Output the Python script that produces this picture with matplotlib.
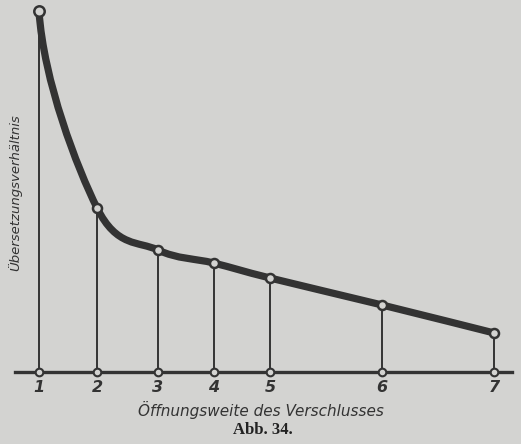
import numpy as np
import matplotlib
matplotlib.use('Agg')
import matplotlib.pyplot as plt
from matplotlib.path import Path
from matplotlib.patches import PathPatch

# opening width of the shutter (tick labels) and where they sit on the axis
opening_labels = ['1', '2', '3', '4', '5', '6', '7']
opening_pos = [1.0, 2.02, 3.09, 4.07, 5.06, 7.03, 9.0]
# transmission ratio (arbitrary units)
ratio = [36.1, 16.4, 12.2, 10.9, 9.4, 6.7, 3.9]

paper = '#d3d3d1'
ink = '#333333'

fig = plt.figure(figsize=(5.21, 4.44), dpi=100, facecolor=paper)
ax = fig.add_axes([0, 72 / 444, 1, 372 / 444])
ax.set_facecolor(paper)
ax.set_xlim(1 - 39 / 56.9, 1 + 482 / 56.9)
ax.set_ylim(0, 37.2)

x = np.array(opening_pos)
y = np.array(ratio)

# smooth curve through the points (Catmull-Rom as cubic bezier pieces)
px = np.concatenate([[x[0]], x, [x[-1]]])
py = np.concatenate([[y[0]], y, [y[-1]]])
verts = [(x[0], y[0])]
codes = [Path.MOVETO]
for i in range(1, len(px) - 2):
    c1 = (px[i] + (px[i + 1] - px[i - 1]) / 6, py[i] + (py[i + 1] - py[i - 1]) / 6)
    c2 = (px[i + 1] - (px[i + 2] - px[i]) / 6, py[i + 1] - (py[i + 2] - py[i]) / 6)
    if i == 1:
        # start almost vertical like the drawing
        c1 = (px[i] + 0.08, py[i] - 7)
    verts += [c1, c2, (px[i + 1], py[i + 1])]
    codes += [Path.CURVE4] * 3
curve = PathPatch(Path(verts, codes), facecolor='none', edgecolor=ink,
                  lw=5.2, capstyle='round', joinstyle='round', zorder=3)
ax.add_patch(curve)

# thin verticals from the base line up to each point
ax.vlines(x, 0, y, color=ink, lw=1.4, zorder=2)

# points on curve and on base line
ax.plot(x[0], y[0], 'o', ms=7.5, mfc=paper, mec=ink, mew=1.8, zorder=4, clip_on=False)
ax.plot(x[1:], y[1:], 'o', ms=6.5, mfc=paper, mec=ink, mew=1.8, zorder=4, clip_on=False)
ax.plot(x, np.zeros_like(x), 'o', ms=5.5, mfc=paper, mec=ink, mew=1.5, zorder=4, clip_on=False)

for s in ['top', 'right', 'left']:
    ax.spines[s].set_visible(False)
ax.spines['bottom'].set_color(ink)
ax.spines['bottom'].set_linewidth(2.4)
ax.spines['bottom'].set_bounds(1 - 24 / 56.9, 1 + 473 / 56.9)
ax.spines['bottom'].set_zorder(3)
ax.set_yticks([])
ax.set_xticks(x)
ax.set_xticklabels(opening_labels, fontsize=11.5, fontweight='bold', fontstyle='italic', color=ink)
ax.tick_params(axis='x', length=0, pad=6)
ax.set_xlabel('Öffnungsweite des Verschlusses', fontsize=11, fontstyle='italic',
              color=ink, labelpad=4)

fig.text(15 / 521, 1 - 193 / 444, 'Übersetzungsverhältnis', rotation=90, fontsize=9.5,
         fontstyle='italic', color=ink, ha='center', va='center')
fig.text(263 / 521, 1 - 430 / 444, 'Abb. 34.', fontsize=12, fontweight='bold',
         family='Liberation Serif', color='#222222', ha='center', va='center')

fig.savefig('out.png', dpi=100, facecolor=paper)
